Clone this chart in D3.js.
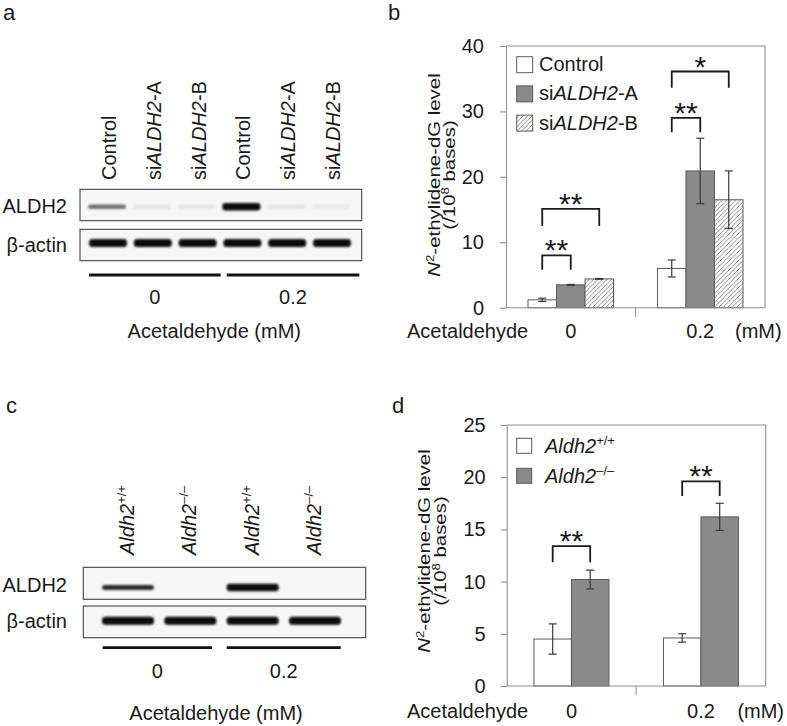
<!DOCTYPE html>
<html><head><meta charset="utf-8">
<script src="https://cdn.jsdelivr.net/npm/d3@7"></script>
<style>
body{margin:0;background:#fff}
svg{display:block}
text{font-family:"Liberation Sans",Arial,sans-serif;fill:#1a1a1a}
</style>
</head><body>
<svg id="fig" width="787" height="726"></svg>
<script>
// ---------------- DATA ----------------
const doses = ["0", "0.2"];
const doseUnitLabel = "(mM)";
const treatmentLabel = "Acetaldehyde";

// Panel a (western blot, siRNA)
const laneLabelsA = [["Control"], ["si", "ALDH2", "-A"], ["si", "ALDH2", "-B"], ["Control"], ["si", "ALDH2", "-A"], ["si", "ALDH2", "-B"]];
const aldh2BandA = [0.55, 0.07, 0.05, 1.0, 0.07, 0.04];
const actinBandA = [1, 1, 1, 1, 1, 1];

// Panel c (western blot, mouse genotype)
const laneLabelsC = ["+/+", "\u2013/\u2013", "+/+", "\u2013/\u2013"];
const aldh2BandC = [0.85, 0, 1.0, 0];
const actinBandC = [1, 1, 1, 1];

// Panel b (bar chart)
const seriesB = ["Control", "siALDH2-A", "siALDH2-B"];
const controlB = [1.2, 6.0];
const controlBErr = [0.25, 1.3];
const siAB = [3.5, 20.9];
const siABErr = [0.06, 5.0];
const siBB = [4.4, 16.5];
const siBBErr = [0.06, 4.4];
const yTicksB = [0, 10, 20, 30, 40];
const sigDoseB = ["0", "0", "0.2", "0.2"];
const sigToB = [1, 2, 1, 2];
const sigTopB = [8.0, 15.1, 29.0, 36.1];
const sigLegB = [5.8, 12.5, 26.8, 33.6];
const sigLabelB = ["**", "**", "**", "*"];

// Panel d (bar chart)
const seriesD = ["Aldh2+/+", "Aldh2-/-"];
const wildD = [4.5, 4.6];
const wildDErr = [1.45, 0.4];
const koD = [10.2, 16.2];
const koDErr = [0.9, 1.3];
const yTicksD = [0, 5, 10, 15, 20, 25];
const sigDoseD = ["0", "0.2"];
const sigToD = [1, 1];
const sigTopD = [13.4, 19.6];
const sigLegD = [11.85, 18.2];
const sigLabelD = ["**", "**"];

// ---------------- DRAWING ----------------
const svg = d3.select("#fig");
const defs = svg.append("defs");
defs.append("filter").attr("id", "blur").attr("x", "-20%").attr("y", "-100%").attr("width", "140%").attr("height", "300%")
  .append("feGaussianBlur").attr("stdDeviation", 1.1);
const hatch = defs.append("pattern").attr("id", "hatch").attr("patternUnits", "userSpaceOnUse")
  .attr("width", 4.5).attr("height", 4.5);
hatch.append("rect").attr("width", 4.5).attr("height", 4.5).attr("fill", "#fff");
hatch.append("path").attr("d", "M0,4.5 L4.5,0 M-1,1 L1,-1 M3.5,5.5 L5.5,3.5")
  .attr("stroke", "#7a7a7a").attr("stroke-width", 0.9);

const TXT = 20;

// panel letters
[["a", 3, 20], ["b", 388, 20], ["c", 6, 413], ["d", 392, 413]].forEach(([t, x, y]) => {
  svg.append("text").attr("x", x).attr("y", y).attr("font-size", 22).text(t);
});

function shade(v) { return d3.interpolateRgb("#f3f3f3", "#080808")(v); }

function drawBlot(cfg) {
  const g = svg.append("g");
  const lane = d3.scalePoint().domain(d3.range(cfg.aldh2.length)).range(cfg.laneRange);
  [cfg.box1, cfg.box2].forEach(b => {
    g.append("rect").attr("x", cfg.boxX[0]).attr("y", b[0]).attr("width", cfg.boxX[1] - cfg.boxX[0])
      .attr("height", b[1] - b[0]).attr("fill", "#f6f6f6").attr("stroke", "#444").attr("stroke-width", 1.1);
  });
  g.append("g").attr("filter", "url(#blur)").selectAll("rect").data(cfg.aldh2).join("rect")
    .attr("x", (d, i) => lane(i) - cfg.bandW / 2 - cfg.aldh2Dx)
    .attr("y", d => cfg.aldh2Y - (d > 0.9 ? cfg.aldh2HStrong : cfg.aldh2H) / 2)
    .attr("width", cfg.bandW)
    .attr("height", d => d > 0.9 ? cfg.aldh2HStrong : cfg.aldh2H)
    .attr("rx", 3)
    .attr("fill", d => shade(d))
    .attr("opacity", d => d > 0 ? 1 : 0);
  g.append("g").attr("filter", "url(#blur)").selectAll("rect").data(cfg.actin).join("rect")
    .attr("x", (d, i) => lane(i) - cfg.bandW / 2)
    .attr("y", cfg.actinY - cfg.actinH / 2)
    .attr("width", cfg.bandW).attr("height", cfg.actinH).attr("rx", 3.5)
    .attr("fill", d => shade(d));
  g.append("text").attr("x", 67).attr("y", cfg.labelY[0]).attr("text-anchor", "end").attr("font-size", TXT).text("ALDH2");
  g.append("text").attr("x", 67).attr("y", cfg.labelY[1]).attr("text-anchor", "end").attr("font-size", TXT).text("\u03b2-actin");
  cfg.laneLabels.forEach((parts, i) => {
    const t = g.append("text").attr("font-size", TXT).attr("text-anchor", "start")
      .attr("transform", `translate(${lane(i) + cfg.laneLabelDx},${cfg.laneLabelY}) rotate(-90)`);
    cfg.renderLabel(t, parts);
  });
  doses.forEach((d, k) => {
    const x1 = cfg.doseLines[k][0], x2 = cfg.doseLines[k][1];
    g.append("line").attr("x1", x1).attr("x2", x2).attr("y1", cfg.doseLineY).attr("y2", cfg.doseLineY)
      .attr("stroke", "#111").attr("stroke-width", 2.8);
    g.append("text").attr("x", (x1 + x2) / 2).attr("y", cfg.doseTextY).attr("text-anchor", "middle")
      .attr("font-size", TXT).text(d);
  });
  g.append("text").attr("x", cfg.titleX).attr("y", cfg.titleY).attr("text-anchor", "middle")
    .attr("font-size", TXT).text(treatmentLabel + " " + doseUnitLabel);
}

drawBlot({
  aldh2: aldh2BandA, actin: actinBandA, laneRange: [108, 332],
  boxX: [80, 361.7], box1: [189.3, 220.7], box2: [229.3, 260.7],
  bandW: 38, aldh2Dx: 1, aldh2Y: 206.7, aldh2H: 4.5, aldh2HStrong: 7.5,
  actinY: 243, actinH: 8,
  labelY: [213.3, 252.3],
  laneLabels: laneLabelsA, laneLabelDx: 8, laneLabelY: 180,
  renderLabel: (t, parts) => parts.forEach((p, j) => t.append("tspan").attr("font-style", j === 1 ? "italic" : null).text(p)),
  doseLines: [[89, 220.7], [226.7, 359.3]], doseLineY: 275, doseTextY: 304.3,
  titleX: 214.3, titleY: 337.7
});

drawBlot({
  aldh2: aldh2BandC, actin: actinBandC, laneRange: [128, 315],
  boxX: [83.3, 365.7], box1: [567.3, 599.3], box2: [606, 637.7],
  bandW: 52, aldh2Dx: 0, aldh2Y: 587.5, aldh2H: 5, aldh2HStrong: 7.5,
  actinY: 620.7, actinH: 8,
  labelY: [591.7, 628],
  laneLabels: laneLabelsC, laneLabelDx: 6, laneLabelY: 555,
  renderLabel: (t, sup) => {
    t.append("tspan").attr("font-style", "italic").text("Aldh2");
    t.append("tspan").attr("font-size", 13).attr("dy", -8).text(sup);
  },
  doseLines: [[102.7, 212], [226.7, 340.7]], doseLineY: 647.7, doseTextY: 678.3,
  titleX: 216, titleY: 720
});

// ---------- bar chart panels ----------
function drawBars(cfg) {
  const g = svg.append("g");
  const x0 = d3.scaleBand().domain(doses).range([cfg.left, cfg.right]);
  const x1 = d3.scaleBand().domain(d3.range(cfg.series.length)).range([0, x0.bandwidth()])
    .paddingInner(0).paddingOuter(cfg.outerPad);
  const y = d3.scaleLinear().domain([0, d3.max(cfg.ticks)]).range([cfg.bottom, cfg.top]);

  g.append("path").attr("d", `M${cfg.left},${y(d3.max(cfg.ticks))} H${cfg.right} V${y(0)}`)
    .attr("fill", "none").attr("stroke", "#8f8f8f").attr("stroke-width", 1.1);

  cfg.series.forEach((s, si) => {
    g.append("g").selectAll("rect").data(cfg.values[si]).join("rect")
      .attr("x", (d, i) => x0(doses[i]) + x1(si))
      .attr("y", d => y(d))
      .attr("width", x1.bandwidth())
      .attr("height", d => y(0) - y(d))
      .attr("fill", cfg.fills[si])
      .attr("stroke", "#5a5a5a").attr("stroke-width", 1);
  });
  cfg.series.forEach((s, si) => {
    cfg.values[si].forEach((v, i) => {
      const cx = x0(doses[i]) + x1(si) + x1.bandwidth() / 2;
      const e = cfg.errs[si][i];
      const eg = g.append("g").attr("stroke", "#3a3a3a").attr("stroke-width", 1.2);
      eg.append("line").attr("x1", cx).attr("x2", cx).attr("y1", y(v - e)).attr("y2", y(v + e));
      [v - e, v + e].forEach(w => eg.append("line").attr("x1", cx - 4).attr("x2", cx + 4).attr("y1", y(w)).attr("y2", y(w)));
    });
  });

  const ax = g.append("g").attr("transform", `translate(${cfg.left},0)`)
    .call(d3.axisLeft(y).tickValues(cfg.ticks).tickSize(6).tickSizeOuter(0).tickPadding(cfg.tickPad));
  ax.select(".domain").attr("stroke", "#8f8f8f").attr("stroke-width", 1.1);
  ax.selectAll(".tick line").attr("stroke", "#8f8f8f").attr("stroke-width", 1.1);
  ax.selectAll(".tick text").attr("font-size", TXT).attr("font-family", "Liberation Sans, Arial, sans-serif").attr("fill", "#1a1a1a");
  g.append("line").attr("x1", cfg.left).attr("x2", cfg.right).attr("y1", y(0)).attr("y2", y(0))
    .attr("stroke", "#8f8f8f").attr("stroke-width", 1.1);
  g.append("line").attr("x1", x0(doses[1])).attr("x2", x0(doses[1])).attr("y1", y(0)).attr("y2", y(0) + 9)
    .attr("stroke", "#8f8f8f").attr("stroke-width", 1.1);

  g.append("text").attr("x", 407).attr("y", cfg.xLabelY).attr("font-size", TXT).text(treatmentLabel);
  doses.forEach(d => g.append("text").attr("x", x0(d) + x0.bandwidth() / 2).attr("y", cfg.xLabelY)
    .attr("text-anchor", "middle").attr("font-size", TXT).text(d));
  g.append("text").attr("x", cfg.unitX).attr("y", cfg.xLabelY).attr("text-anchor", "middle")
    .attr("font-size", TXT).text(doseUnitLabel);

  // y label (two lines, condensed height / stretched length like the original)
  const YF = 17, SX = 1.2;
  const l1 = g.append("text").attr("font-size", YF).attr("text-anchor", "middle")
    .attr("transform", `translate(${cfg.yLab[0]},${cfg.yLabY}) rotate(-90) scale(${SX},1)`);
  l1.append("tspan").attr("font-style", "italic").text("N");
  l1.append("tspan").attr("font-size", 11).attr("dy", -6).text("2");
  l1.append("tspan").attr("dy", 6).text("-ethylidene-dG level");
  const l2 = g.append("text").attr("font-size", YF).attr("text-anchor", "middle")
    .attr("transform", `translate(${cfg.yLab[1]},${cfg.yLabY}) rotate(-90) scale(${SX},1)`);
  l2.append("tspan").text("(/10");
  l2.append("tspan").attr("font-size", 11).attr("dy", -6).text("8");
  l2.append("tspan").attr("dy", 6).text(" bases)");

  cfg.sigDose.forEach((d, k) => {
    const xa = x0(d) + x1(0) + x1.bandwidth() / 2;
    const xb = x0(d) + x1(cfg.sigTo[k]) + x1.bandwidth() / 2;
    g.append("path").attr("d", `M${xa},${y(cfg.sigLeg[k])} V${y(cfg.sigTop[k])} H${xb} V${y(cfg.sigLeg[k])}`)
      .attr("fill", "none").attr("stroke", "#1a1a1a").attr("stroke-width", 1.8);
    g.append("text").attr("x", (xa + xb) / 2).attr("y", y(cfg.sigTop[k]) + 5)
      .attr("text-anchor", "middle").attr("font-size", 30).text(cfg.sigLabel[k]);
  });

  cfg.series.forEach((s, si) => {
    const top = cfg.legTop + si * cfg.legPitch;
    g.append("rect").attr("x", 516.7).attr("y", top).attr("width", cfg.legSize).attr("height", cfg.legSize)
      .attr("fill", cfg.fills[si]).attr("stroke", "#5a5a5a").attr("stroke-width", 1);
    const t = g.append("text").attr("x", cfg.legTextX).attr("y", top + cfg.legBase).attr("font-size", TXT);
    cfg.legendRender(t, si);
  });
}

drawBars({
  left: 506, right: 765, top: 46, bottom: 307.7, outerPad: 0.772,
  series: seriesB, values: [controlB, siAB, siBB], errs: [controlBErr, siABErr, siBBErr],
  fills: ["#fff", "#8a8a8a", "url(#hatch)"], ticks: yTicksB, tickPad: 16,
  xLabelY: 337.7, unitX: 758.3,
  yLab: [440, 455], yLabY: 175,
  sigDose: sigDoseB, sigTo: sigToB, sigTop: sigTopB, sigLeg: sigLegB, sigLabel: sigLabelB,
  legTop: 56.7, legPitch: 29.2, legSize: 16, legTextX: 539, legBase: 14.5,
  legendRender: (t, si) => {
    const parts = [["Control"], ["si", "ALDH2", "-A"], ["si", "ALDH2", "-B"]][si];
    parts.forEach((p, j) => t.append("tspan").attr("font-style", j === 1 ? "italic" : null).text(p));
  }
});

drawBars({
  left: 506.7, right: 765.7, top: 425, bottom: 686, outerPad: 0.727,
  series: seriesD, values: [wildD, koD], errs: [wildDErr, koDErr],
  fills: ["#fff", "#8a8a8a"], ticks: yTicksD, tickPad: 15,
  xLabelY: 718, unitX: 760.7,
  yLab: [430, 446], yLabY: 551,
  sigDose: sigDoseD, sigTo: sigToD, sigTop: sigTopD, sigLeg: sigLegD, sigLabel: sigLabelD,
  legTop: 438.3, legPitch: 30, legSize: 15, legTextX: 545, legBase: 15,
  legendRender: (t, si) => {
    t.append("tspan").attr("font-style", "italic").text("Aldh2");
    t.append("tspan").attr("font-size", 13).attr("dy", -8).text(si === 0 ? "+/+" : "\u2013/\u2013");
  }
});
</script>
</body></html>
